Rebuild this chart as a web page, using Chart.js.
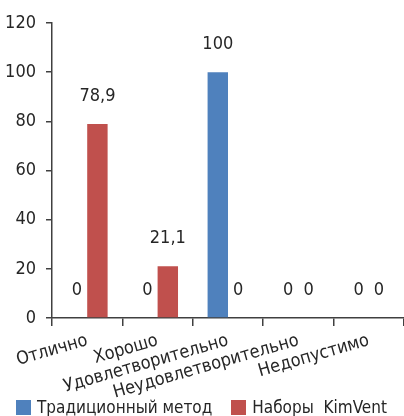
<!DOCTYPE html>
<html>
<head>
<meta charset="utf-8">
<script src="https://cdn.jsdelivr.net/npm/chart.js@4.4.0/dist/chart.umd.min.js"></script>
<style>
html, body { margin: 0; padding: 0; background: #fff; overflow: hidden; }
#wrap { position: relative; width: 404px; height: 416px; overflow: hidden; }
#box { position: absolute; left: 0; top: 0; width: 404px; height: 416px; }
#legend { position: absolute; left: 16px; top: 397px; display: flex; gap: 19px;
  font: 17px "DejaVu Sans Condensed", "DejaVu Sans", sans-serif; color: #262626; line-height: 21px; white-space: pre; }
#legend .item { display: flex; align-items: center; }
#legend .sw { width: 15px; height: 15px; margin-right: 6px; }
</style>
</head>
<body>
<div id="wrap">
  <div id="box"><canvas id="chart"></canvas></div>
  <div id="legend"></div>
</div>
<script>
const categories = ['Отлично', 'Хорошо', 'Удовлетворительно', 'Неудовлетворительно', 'Недопустимо'];
const traditional = [0, 0, 100, 0, 0];
const kimVent = [78.9, 21.1, 0, 0, 0];
const seriesNames = ['Традиционный метод', 'Наборы  KimVent'];
const seriesColors = ['#4F81BD', '#C0504D'];
const yMin = 0, yMax = 120, yStep = 20;

const FONT = '"DejaVu Sans Condensed", "DejaVu Sans", sans-serif';
const TEXT = '#262626';
const AXIS = '#404040';

// value labels above every bar (zeros included), comma as decimal mark
const valueLabels = {
    id: 'valueLabels',
    afterDatasetsDraw(chart) {
        const ctx = chart.ctx;
        ctx.save();
        ctx.font = '18px ' + FONT;
        ctx.fillStyle = TEXT;
        ctx.textAlign = 'center';
        ctx.textBaseline = 'middle';
        chart.data.datasets.forEach((ds, i) => {
            chart.getDatasetMeta(i).data.forEach((bar, j) => {
                ctx.fillText(String(ds.data[j]).replace('.', ','), bar.x, bar.y - 28);
            });
        });
        ctx.restore();
    }
};

const ctx = document.getElementById('chart').getContext('2d');
const chart = new Chart(ctx, {
    type: 'bar',
    data: {
        labels: categories,
        datasets: [
            { label: seriesNames[0], data: traditional, backgroundColor: seriesColors[0] },
            { label: seriesNames[1], data: kimVent, backgroundColor: seriesColors[1] }
        ]
    },
    options: {
        responsive: true,
        maintainAspectRatio: false,
        animation: false,
        layout: { padding: { top: 23, right: 0, left: 0, bottom: 0 } },
        datasets: { bar: { categoryPercentage: 0.58, barPercentage: 1 } },
        scales: {
            x: {
                grid: { display: true, drawOnChartArea: false, tickLength: 8, color: AXIS, lineWidth: 1.5 },
                border: { color: AXIS, width: 1.5 },
                ticks: { color: TEXT, font: { family: FONT, size: 18 }, minRotation: 16, maxRotation: 16, autoSkip: false, padding: 4 },
                afterFit(scale) { scale.height = 98; }
            },
            y: {
                min: yMin, max: yMax,
                grid: { display: true, drawOnChartArea: false, tickLength: 6, color: AXIS, lineWidth: 1.5 },
                border: { color: AXIS, width: 1.5 },
                ticks: { stepSize: yStep, color: TEXT, font: { family: FONT, size: 18 }, padding: 10 },
                afterFit(scale) { scale.width = 52; }
            }
        },
        plugins: {
            legend: { display: false },
            tooltip: { enabled: false }
        }
    },
    plugins: [valueLabels]
});

// html legend built from the datasets
const legendEl = document.getElementById('legend');
chart.data.datasets.forEach(ds => {
    const item = document.createElement('div');
    item.className = 'item';
    const sw = document.createElement('span');
    sw.className = 'sw';
    sw.style.background = ds.backgroundColor;
    const txt = document.createElement('span');
    txt.textContent = ds.label;
    item.appendChild(sw);
    item.appendChild(txt);
    legendEl.appendChild(item);
});
</script>
</body>
</html>
